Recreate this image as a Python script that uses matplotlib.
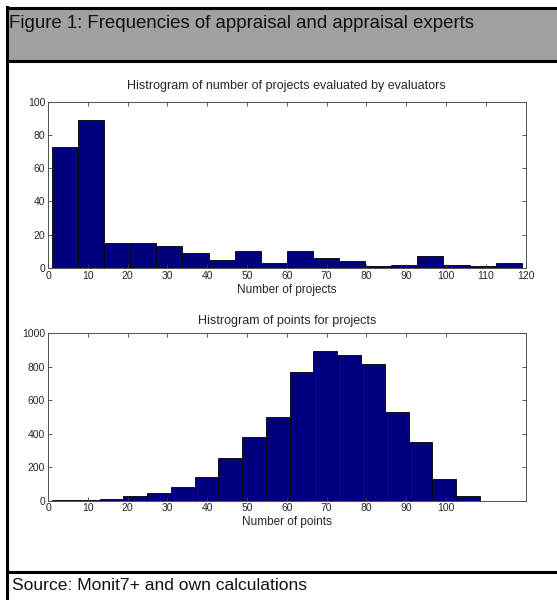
import numpy as np
import matplotlib
matplotlib.use('Agg')
import matplotlib.pyplot as plt
from matplotlib.patches import Rectangle
from matplotlib.lines import Line2D

plt.rcParams['font.family'] = ['Liberation Sans', 'DejaVu Sans']

# histogram 1 : number of projects evaluated by evaluators
proj_edges = np.linspace(1, 119, 19)
proj_counts = [73, 89, 15, 15, 13, 9, 5, 10, 3, 10, 6, 4, 1, 2, 7, 2, 1, 3]

# histogram 2 : points for projects
pts_edges = np.linspace(1, 108.5, 19)
pts_counts = [2, 3, 10, 30, 46, 80, 139, 253, 383, 502, 771, 893, 873, 815, 532, 353, 130, 30]

fig_title = 'Figure 1: Frequencies of appraisal and appraisal experts'
source = 'Source: Monit7+ and own calculations'

W, H = 557, 600
fig = plt.figure(figsize=(W / 100, H / 100), dpi=100)

def fx(px): return px / W
def fy(py): return 1 - py / H

# frame / header
fig.patches.append(Rectangle((fx(7), fy(61)), fx(W - 7), fy(8) - fy(61),
                             transform=fig.transFigure, facecolor='#a0a0a0', edgecolor='none', zorder=0))
for (x0, y0, x1, y1) in [(7, 7.5, W, 7.5), (7, 61, W, 61), (7, 7, 7, H), (7, 572, W, 572)]:
    fig.lines.append(Line2D([fx(x0), fx(x1)], [fy(y0), fy(y1)], transform=fig.transFigure,
                            color='black', lw=2.2))
fig.text(fx(9), fy(23), fig_title, fontsize=13.4, va='center', ha='left', color='#111111')
fig.text(fx(12), fy(586), source, fontsize=12.6, va='center', ha='left', color='#111111')

bar_col = '#00007f'
txt_col = '#262626'

def style(ax):
    ax.tick_params(direction='in', top=True, right=True, labelsize=7.5, length=3, pad=2,
                   width=0.6, labelcolor=txt_col, color='#404040')
    for s in ax.spines.values():
        s.set_linewidth(0.7)
        s.set_color('#505050')

ax1 = fig.add_axes([fx(48), fy(268), fx(525.7) - fx(48), fy(101.7) - fy(268)])
ax1.bar(proj_edges[:-1], proj_counts, width=np.diff(proj_edges), align='edge',
        color=bar_col, edgecolor='black', linewidth=0.6)
ax1.set_xlim(0, 120)
ax1.set_ylim(0, 100)
ax1.set_xticks(np.arange(0, 121, 10))
ax1.set_yticks(np.arange(0, 101, 20))
ax1.set_title('Histrogram of number of projects evaluated by evaluators', fontsize=9, pad=9, color=txt_col)
ax1.set_xlabel('Number of projects', fontsize=8.5, labelpad=2, color=txt_col)
style(ax1)

ax2 = fig.add_axes([fx(48), fy(500.7), fx(525.7) - fx(48), fy(333.3) - fy(500.7)])
ax2.bar(pts_edges[:-1], pts_counts, width=np.diff(pts_edges), align='edge',
        color=bar_col, edgecolor='black', linewidth=0.6)
ax2.set_xlim(0, 120)
ax2.set_ylim(0, 1000)
ax2.set_xticks(np.arange(0, 101, 10))
ax2.set_yticks(np.arange(0, 1001, 200))
ax2.set_title('Histrogram of points for projects', fontsize=9, pad=7, color=txt_col)
ax2.set_xlabel('Number of points', fontsize=8.5, labelpad=2, color=txt_col)
style(ax2)

fig.savefig('out.png', dpi=100)
